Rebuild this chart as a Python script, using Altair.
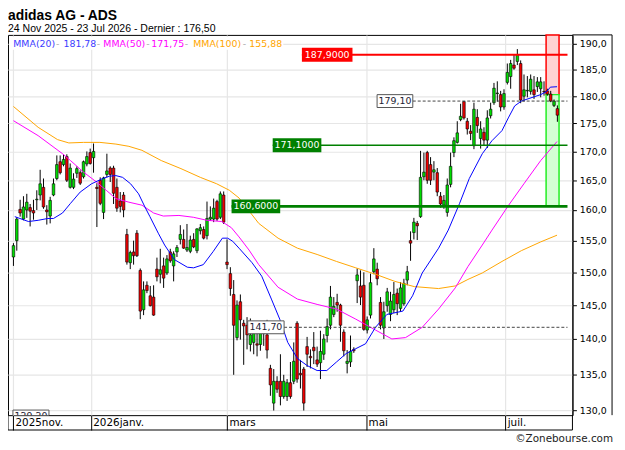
import altair as alt
import pandas as pd

TITLE = "adidas AG - ADS"
SUBTITLE = "24 Nov 2025 - 23 Jul 2026 - Dernier : 176,50"
COPYRIGHT = "\u00a9Zonebourse.com"

opens = [152.4, 155.0, 160.1, 158.5, 160.0, 160.4, 159.9, 161.7, 162.5, 163.8,
         160.0, 159.0, 162.5, 165.3, 168.2, 167.7, 169.1, 163.8, 163.8, 166.2,
         166.3, 165.6, 167.8, 169.8, 168.9, 163.8, 165.0, 159.6, 166.0, 167.1,
         167.1, 163.8, 161.5, 162.5, 156.0, 151.5, 153.2, 156.2, 150.3, 144.3,
         148.0, 146.4, 146.2, 150.5, 149.7, 151.0, 149.9, 153.2, 151.0, 153.2,
         155.2, 155.2, 153.5, 153.3, 155.2, 153.4, 156.6, 156.8, 155.8, 158.5,
         158.5, 161.4, 158.8, 162.5, 151.6, 149.8, 146.6, 140.2, 145.5, 142.3,
         142.0, 139.2, 139.5, 139.3, 139.2, 141.0, 140.6, 135.8, 131.0, 134.0,
         134.0, 131.9, 131.9, 133.8, 134.0, 142.3, 135.1, 135.7, 138.9, 137.5,
         138.8, 137.0, 136.6, 137.8, 140.5, 142.0, 143.6, 145.4, 145.0, 141.0,
         136.5, 136.7, 138.5, 148.7, 147.9, 148.0, 141.3, 143.5, 150.1, 150.5,
         145.4, 141.6, 144.9, 143.6, 144.3, 146.8, 144.5, 145.2, 148.8, 155.0,
         156.3, 157.8, 158.9, 165.6, 169.8, 167.7, 166.4, 166.3, 162.3, 160.8,
         159.6, 164.3, 169.8, 171.6, 175.7, 179.0, 175.4, 173.6, 171.0, 176.1,
         172.3, 173.4, 172.0, 176.4, 178.8, 180.5, 180.3, 178.0, 182.6, 183.7,
         185.9, 186.6, 186.2, 180.0, 181.0, 180.9, 181.2, 181.8, 181.4, 180.9,
         181.0, 180.4, 178.3, 177.7]
highs = [154.6, 158.8, 161.7, 162.3, 162.7, 161.0, 161.7, 163.3, 166.8, 165.3,
         160.8, 162.2, 165.3, 169.3, 169.3, 169.5, 169.5, 167.9, 166.2, 167.4,
         166.7, 168.4, 170.0, 170.5, 171.4, 164.5, 165.5, 165.6, 169.6, 167.4,
         167.5, 165.3, 163.0, 163.0, 156.9, 153.4, 155.0, 156.7, 150.6, 148.6,
         148.6, 147.9, 148.0, 152.3, 153.7, 152.3, 152.7, 153.7, 153.3, 154.3,
         157.5, 156.8, 157.7, 155.8, 156.2, 157.0, 157.7, 157.3, 161.4, 160.6,
         161.9, 161.7, 163.1, 163.1, 155.2, 150.8, 148.8, 145.7, 146.6, 142.8,
         143.2, 143.0, 142.5, 141.5, 142.5, 141.8, 142.8, 136.3, 135.7, 134.7,
         137.8, 134.9, 134.3, 136.7, 139.5, 142.6, 137.0, 136.0, 140.3, 138.5,
         141.0, 138.9, 141.2, 140.7, 143.0, 147.9, 146.2, 146.7, 145.2, 141.4,
         138.4, 140.5, 138.8, 150.6, 150.3, 150.0, 143.3, 149.8, 153.8, 151.5,
         146.2, 145.5, 147.6, 147.0, 148.5, 147.5, 148.5, 149.0, 151.0, 156.5,
         158.7, 158.2, 170.1, 169.8, 170.1, 169.0, 168.3, 167.1, 163.0, 162.5,
         165.3, 169.8, 172.5, 175.4, 178.6, 179.1, 176.0, 174.7, 178.8, 177.6,
         175.4, 174.3, 177.4, 178.8, 182.5, 182.8, 181.0, 181.3, 186.2, 186.9,
         187.9, 189.0, 186.8, 184.1, 183.8, 184.1, 183.8, 183.6, 183.6, 182.8,
         181.4, 181.0, 179.4, 178.3]
lows = [151.0, 153.4, 158.9, 158.3, 158.7, 157.3, 158.4, 160.0, 161.6, 160.2,
        157.6, 157.8, 162.3, 165.0, 166.0, 167.4, 164.7, 163.6, 163.5, 165.4,
        164.2, 165.3, 167.4, 167.7, 166.3, 157.2, 160.8, 158.5, 165.5, 164.7,
        161.0, 159.7, 159.6, 158.8, 151.2, 150.5, 151.2, 152.4, 142.9, 143.5,
        146.8, 144.8, 143.4, 148.6, 148.3, 147.6, 149.6, 151.5, 148.6, 152.4,
        154.4, 153.7, 153.2, 153.0, 153.8, 153.0, 156.0, 155.2, 155.2, 158.2,
        158.0, 158.2, 158.5, 157.7, 150.5, 146.4, 134.9, 139.8, 139.9, 136.3,
        138.5, 138.2, 137.8, 137.5, 138.3, 139.0, 137.2, 132.0, 130.0, 132.4,
        130.7, 131.6, 131.3, 131.6, 133.6, 133.8, 133.0, 130.0, 136.0, 135.8,
        136.4, 136.0, 134.3, 137.0, 139.5, 141.4, 143.2, 144.0, 139.6, 137.5,
        135.1, 136.0, 138.0, 145.3, 145.0, 141.2, 140.8, 143.0, 149.7, 148.0,
        141.4, 140.0, 144.0, 142.6, 143.8, 143.5, 144.0, 144.9, 148.0, 151.8,
        155.2, 155.1, 158.7, 165.0, 164.4, 164.2, 165.0, 162.3, 160.4, 160.2,
        158.9, 163.8, 169.0, 171.4, 175.4, 175.7, 173.0, 172.0, 170.4, 173.3,
        170.5, 171.0, 170.6, 175.9, 178.4, 179.0, 177.2, 177.5, 182.2, 181.4,
        185.0, 185.9, 178.7, 179.0, 179.8, 180.3, 179.5, 180.8, 179.8, 180.1,
        180.1, 178.9, 178.0, 175.3]
closes = [154.2, 158.5, 159.5, 160.5, 161.3, 159.8, 159.5, 161.8, 164.4, 160.5,
          159.7, 161.6, 164.4, 167.7, 166.3, 168.6, 165.0, 167.1, 165.2, 167.0,
          164.5, 168.2, 169.1, 167.9, 170.0, 163.6, 161.1, 165.4, 166.6, 166.0,
          162.8, 160.3, 160.6, 160.0, 151.6, 153.1, 152.6, 152.6, 144.1, 147.3,
          147.2, 144.9, 143.5, 149.3, 150.4, 149.1, 152.1, 151.8, 152.9, 153.9,
          156.0, 153.8, 153.9, 155.1, 154.0, 156.9, 157.1, 155.4, 158.6, 158.8,
          160.3, 158.5, 162.7, 158.0, 151.2, 147.5, 142.0, 145.0, 142.8, 141.9,
          140.6, 140.6, 140.8, 139.1, 141.0, 140.8, 138.4, 133.5, 134.0, 132.9,
          131.9, 134.0, 133.8, 131.9, 136.8, 134.3, 134.9, 131.0, 137.8, 137.3,
          138.3, 136.4, 138.2, 140.0, 141.8, 146.2, 144.8, 145.0, 142.0, 138.3,
          136.8, 138.2, 138.3, 149.6, 146.2, 141.4, 142.8, 148.4, 152.1, 149.0,
          142.0, 144.0, 147.0, 145.6, 146.6, 145.2, 147.6, 148.3, 150.1, 154.6,
          158.0, 157.4, 165.5, 166.4, 165.0, 165.0, 166.8, 163.0, 161.0, 161.6,
          164.2, 167.4, 171.9, 173.3, 176.3, 176.0, 174.0, 173.2, 177.6, 174.6,
          174.0, 172.0, 176.0, 177.6, 181.5, 180.6, 178.0, 180.5, 184.5, 186.2,
          185.3, 187.9, 179.3, 181.2, 181.1, 183.2, 180.3, 182.7, 182.7, 180.8,
          180.4, 179.1, 179.1, 176.5]

# moving averages (candle index, value)
ma20_i = [0.4, 4.5, 7.4, 10.3, 12.0, 14.7, 17.1, 20.0, 23.4, 26.8, 28.8, 30.7, 32.7,
          35.1, 37.5, 39.4, 40.9, 43.4, 45.3, 48.2, 52.1, 54.0, 56.9, 59.9, 62.6,
          64.2, 65.7, 67.6, 71.5, 74.4, 77.3, 79.8, 82.2, 85.1, 88.0, 91.0, 93.9,
          96.8, 99.7, 102.6, 105.5, 108.5, 111.9, 116.7, 119.6, 122.5, 127.4, 130.3,
          133.7, 136.6, 140.5, 143.4, 146.4, 148.3, 150.2, 152.2, 155.1, 158.0,
          159.8, 160.9, 162.9]
ma20_v = [158.9, 158.1, 158.3, 158.6, 158.6, 159.5, 161.1, 163.0, 164.4, 165.3, 165.7,
          165.8, 165.5, 164.4, 162.7, 160.5, 158.9, 156.2, 154.3, 152.0, 150.8, 150.7,
          151.2, 153.3, 155.4, 155.4, 154.9, 153.8, 151.5, 149.4, 145.9, 142.9, 139.5,
          137.2, 136.2, 135.5, 135.5, 136.7, 137.9, 138.6, 139.3, 141.7, 143.6, 144.1,
          146.4, 149.9, 153.8, 156.7, 161.1, 165.3, 169.6, 171.9, 173.7, 176.0, 178.2,
          179.1, 179.7, 180.3, 180.9, 181.7, 181.78]
ma50_i = [0, 7.4, 14.7, 17.1, 21.0, 24.9, 27.8, 30.7, 34.6, 38.5, 42.0, 44.9, 49.6,
          53.9, 58.0, 62.4, 65.3, 67.6, 70.6, 73.5, 79.3, 85.1, 91.0, 96.8, 102.6,
          108.5, 113.4, 117.5, 122.5, 127.4, 132.4, 136.2, 140.5, 143.4, 148.4,
          153.1, 158.0, 162.9]
ma50_v = [175.5, 172.8, 169.6, 168.4, 166.4, 164.7, 163.3, 161.9, 161.3, 160.8, 159.5,
          159.0, 159.1, 158.8, 158.3, 158.1, 157.1, 155.6, 153.5, 151.2, 147.7, 145.9,
          145.1, 144.4, 142.9, 141.3, 140.0, 140.2, 141.7, 144.4, 147.6, 150.9, 154.3,
          156.7, 160.8, 164.5, 168.4, 171.75]
ma100_i = [0, 7.4, 13.2, 16.6, 21.0, 25.9, 30.7, 34.6, 38.5, 44.3, 50.2, 56.0, 60.9,
           64.7, 67.6, 73.5, 79.3, 85.1, 91.0, 96.8, 102.6, 108.5, 114.3, 120.1,
           127.4, 132.4, 136.2, 140.5, 146.4, 152.2, 158.0, 162.9]
ma100_v = [178.1, 174.3, 172.1, 171.5, 171.6, 171.6, 171.3, 170.9, 170.2, 168.4, 167.0,
           165.5, 164.4, 163.3, 162.0, 157.8, 155.4, 153.8, 152.8, 151.7, 150.7, 149.7,
           148.6, 147.8, 147.5, 147.9, 148.9, 149.9, 151.7, 153.4, 154.8, 155.88]

# axis labels
x_tick_pos = [-0.15, 23.17, 63.99, 105.68, 147.37]
x_tick_lab = ["2025nov.", "2026janv.", "mars", "mai", "juil."]
y_ticks = [130, 135, 140, 145, 150, 155, 160, 165, 170, 175, 180, 185, 190]

# horizontal levels with coloured tags
lvl_price = [187.9, 171.1, 160.6]
lvl_label = ["187,9000", "171,1000", "160,6000"]
lvl_x1 = [86.44, 77.69, 65.36]
lvl_x2 = [101.60, 92.27, 79.94]
lvl_color = ["#ff0000", "#008000", "#008000"]
lvl_width = [2, 1.5, 3]

# dashed marker levels with white tags
mk_price = [179.1, 141.7, 129.2]
mk_label = ["179,10", "141,70", "129,20"]
mk_x1 = [108.97, 70.20, -0.15]
mk_x2 = [119.67, 81.10, 10.64]

# shaded target zones
zone_x1 = [159.62, 159.62]
zone_x2 = [163.50, 163.50]
zone_top = [191.8, 180.3]
zone_bot = [180.3, 160.6]
zone_fill = ["#ffd2d2", "#d4ffd4"]
zone_stroke = ["#ff0000", "#22ee22"]

# legend
legend_items = [("MMA(20)", "#3c3cff"), ("181,78", "#3c3cff"),
                ("MMA(50)", "#ff00ff"), ("171,75", "#ff00ff"),
                ("MMA(100)", "#ffa500"), ("155,88", "#ffa500")]

W, H = 570, 384
X_DOMAIN = [-0.15, 166.03]
Y_DOMAIN = [129.38, 191.8]
FONT = "DejaVu Sans"

xs = alt.Scale(domain=X_DOMAIN, nice=False, zero=False)
ys = alt.Scale(type="log", domain=Y_DOMAIN, nice=False, zero=False)

N = len(opens)
df = pd.DataFrame({"i": list(range(N)), "open": opens, "high": highs,
                   "low": lows, "close": closes})

expr = "'" + x_tick_lab[-1] + "'"
for k in range(len(x_tick_pos) - 2, -1, -1):
    mid = (x_tick_pos[k] + x_tick_pos[k + 1]) / 2
    expr = f"datum.value < {mid} ? '{x_tick_lab[k]}' : ({expr})"

x_axis = alt.Axis(values=x_tick_pos, labelExpr=expr, labelAlign="left",
                  labelBaseline="top", labelPadding=-13, labelOffset=2, tickSize=15,
                  tickColor="black", tickWidth=1, domain=False, grid=True,
                  gridColor="#e6e6e6", gridWidth=1.2, labelFont=FONT,
                  labelFontSize=10.5, labelColor="black", title=None,
                  labelOverlap=False, labelFlush=False, labelBound=False)
y_axis = alt.Axis(orient="right", values=y_ticks,
                  labelExpr="replace(format(datum.value, '.1f'), '.', ',')",
                  tickSize=4, tickColor="black", domain=True, domainColor="black",
                  grid=True, gridColor="#e6e6e6", gridWidth=1.2, labelPadding=3,
                  labelFont=FONT, labelFontSize=9.5, labelColor="black", title=None,
                  labelFlush=False, labelOverlap=False)


def X(field):
    return alt.X(field, type="quantitative", scale=xs, axis=x_axis)


def Y(field):
    return alt.Y(field, type="quantitative", scale=ys, axis=y_axis)


zones_df = pd.DataFrame({"x1": zone_x1, "x2": zone_x2, "top": zone_top,
                         "bot": zone_bot, "fill": zone_fill, "stroke": zone_stroke})
zones = alt.Chart(zones_df).mark_rect(strokeWidth=1.5).encode(
    x=X("x1"), x2="x2:Q", y=Y("top"), y2="bot:Q",
    fill=alt.Fill("fill:N", scale=None), stroke=alt.Stroke("stroke:N", scale=None))

wicks = alt.Chart(df).mark_rule(color="black", strokeWidth=1).encode(
    x=X("i"), y=Y("low"), y2="high:Q")

bodies = alt.Chart(df).mark_bar(size=2.6, stroke="black", strokeWidth=0.6).encode(
    x=X("i"), y=Y("open"), y2="close:Q",
    color=alt.condition("datum.close >= datum.open", alt.value("#00dd00"),
                        alt.value("#ee0000")))


def ma_line(ix, vals, color):
    d = pd.DataFrame({"i": ix, "v": vals})
    return alt.Chart(d).mark_line(color=color, strokeWidth=1).encode(
        x=X("i"), y=Y("v"))


ma100 = ma_line(ma100_i, ma100_v, "#ffa500")
ma50 = ma_line(ma50_i, ma50_v, "#ff00ff")
ma20 = ma_line(ma20_i, ma20_v, "#0000ff")

lv_df = pd.DataFrame({"x1": lvl_x1, "x2": lvl_x2, "p": lvl_price, "lab": lvl_label,
                      "col": lvl_color, "w": lvl_width,
                      "end": [X_DOMAIN[1]] * len(lvl_price)})
lv_df["xc"] = (lv_df["x1"] + lv_df["x2"]) / 2
lv_lines = alt.Chart(lv_df).mark_rule().encode(
    x=X("x1"), x2="end:Q", y=Y("p"),
    color=alt.Color("col:N", scale=None),
    strokeWidth=alt.StrokeWidth("w:Q", scale=None))
lv_boxes = alt.Chart(lv_df).mark_rect(yOffset=-7, y2Offset=7).encode(
    x=X("x1"), x2="x2:Q", y=Y("p"), y2="p:Q",
    fill=alt.Fill("col:N", scale=None))
lv_text = alt.Chart(lv_df).mark_text(font=FONT, fontSize=9.5, color="white",
                                      align="center", baseline="middle").encode(
    x=X("xc"), y=Y("p"), text="lab:N")

mk_df = pd.DataFrame({"x1": mk_x1, "x2": mk_x2, "p": mk_price, "lab": mk_label,
                      "end": [X_DOMAIN[1]] * len(mk_price)})
mk_df["xc"] = (mk_df["x1"] + mk_df["x2"]) / 2
mk_lines = alt.Chart(mk_df).mark_rule(color="#444444", strokeWidth=1,
                                      strokeDash=[3, 2], clip=True).encode(
    x=X("x2"), x2="end:Q", y=Y("p"))
mk_boxes = alt.Chart(mk_df).mark_rect(yOffset=-6.5, y2Offset=6.5, fill="white",
                                      stroke="#555555", strokeWidth=1,
                                      clip=True).encode(
    x=X("x1"), x2="x2:Q", y=Y("p"), y2="p:Q")
mk_text = alt.Chart(mk_df).mark_text(font=FONT, fontSize=9.5, color="#222233",
                                      align="center", baseline="middle",
                                      clip=True).encode(
    x=X("xc"), y=Y("p"), text="lab:N")

one = pd.DataFrame({"a": [0]})


def txt(s, x, y, color="black", size=9.5, font=FONT, weight="normal", align="left"):
    return alt.Chart(one).mark_text(text=s, font=font, fontSize=size, color=color,
                                    fontWeight=weight, align=align,
                                    baseline="alphabetic").encode(
        x=alt.value(x), y=alt.value(y))


def rule(x, y, x2, y2, color="black", width=1):
    return alt.Chart(one).mark_rule(color=color, strokeWidth=width).encode(
        x=alt.value(x), y=alt.value(y), x2=alt.value(x2), y2=alt.value(y2))


legend_bg = alt.Chart(one).mark_rect(fill="white").encode(
    x=alt.value(1), x2=alt.value(278), y=alt.value(2), y2=alt.value(15))
leg_x = [5.3, 56, 96.3, 144.7, 187, 243.7]
sep_x = [50.3, 91.3, 141.3, 180.3, 238.7]
legend = [txt(t, leg_x[k], 12, color=c) for k, (t, c) in enumerate(legend_items)]
legend += [txt("-", sx, 12, color="#aaaaaa", align="center") for sx in sep_x]

titles = [
    txt(TITLE, 0, -15, size=14, font="Liberation Sans", weight="bold"),
    txt(SUBTITLE, 0, -2.5, size=10.6, font="Liberation Sans"),
    txt(COPYRIGHT, 611, 411, size=10.5, color="#222222", align="right"),
]

frame = [
    rule(0, H + 15, W, H + 15),
    rule(0, H, 0, H + 15),
    rule(W, H, W, H + 15),
    rule(W, 0, 610, 0),
    rule(610, 0, 610, H),
]

chart = alt.layer(
    zones, wicks, bodies, ma100, ma50, ma20,
    lv_lines, mk_lines, lv_boxes, lv_text, mk_boxes, mk_text,
    legend_bg, *legend, *titles, *frame
).properties(
    width=W, height=H,
    padding={"left": 0, "top": 25, "right": 45, "bottom": 31},
    autosize=alt.AutoSizeParams(type="none"),
).configure_view(stroke="black", strokeWidth=1)

chart.save("out.html", embed_options={"renderer": "svg", "actions": False})
